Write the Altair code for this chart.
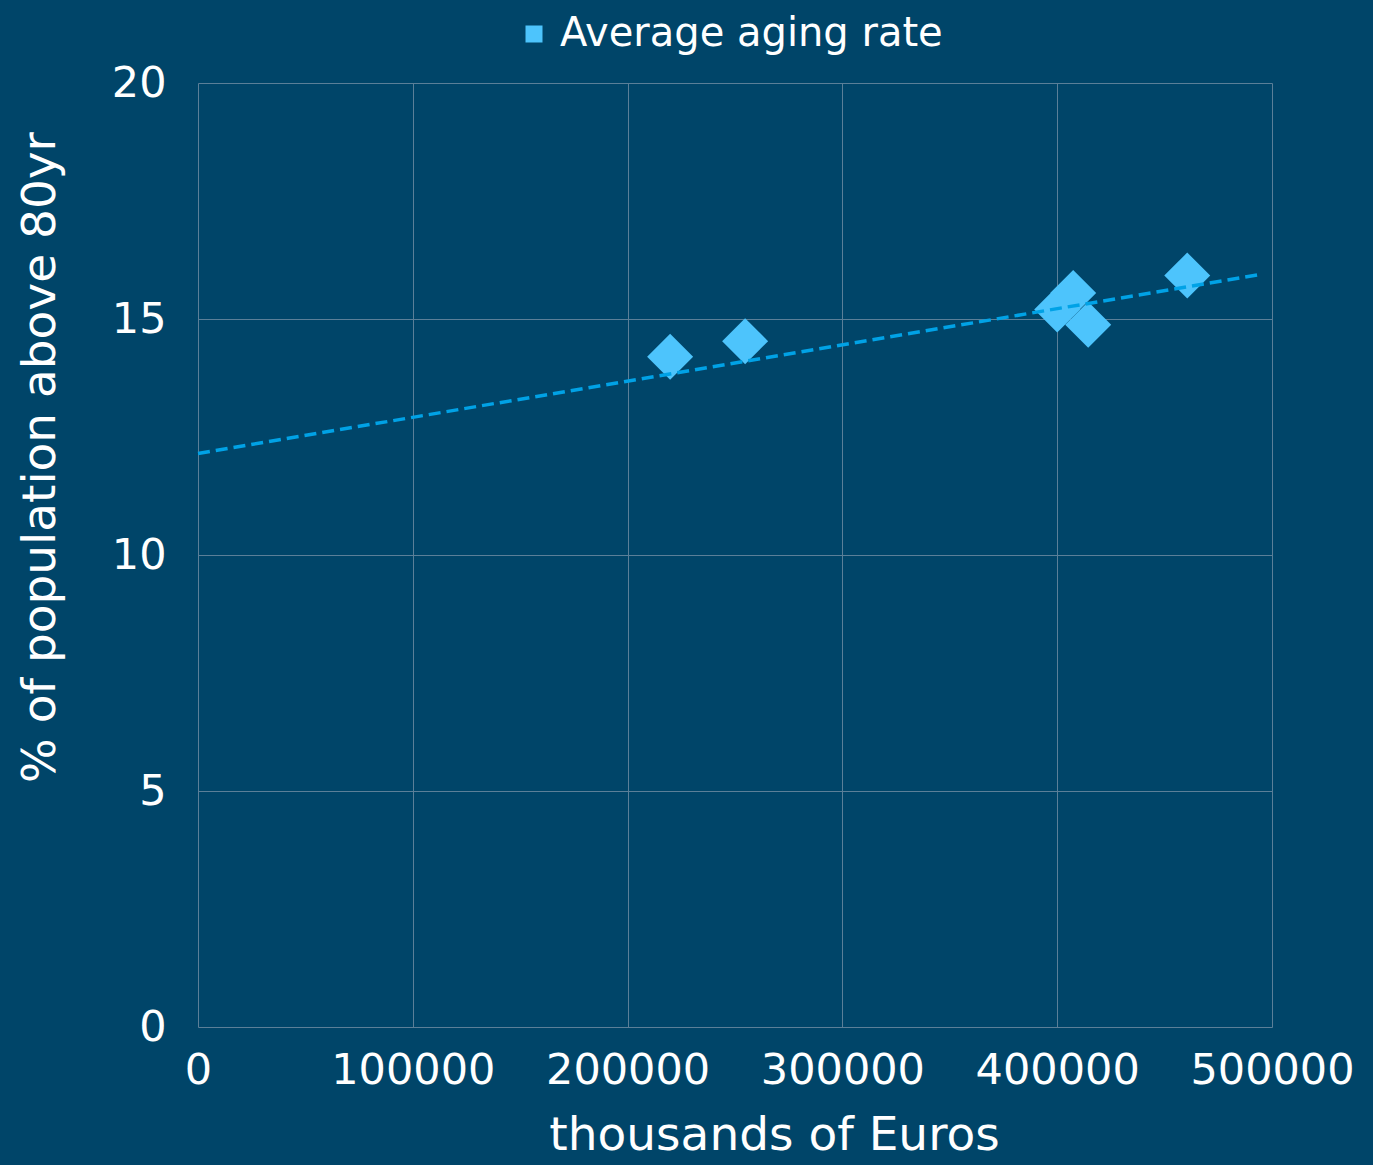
import altair as alt
import pandas as pd

# Regional GDP (thousands of euros) against share of population aged 80+
gdp = [219790, 254715, 400000, 407450, 414435, 460535]
share_80 = [14.20, 14.53, 15.20, 15.55, 14.88, 15.92]
series_name = "Average aging rate"

# Linear trend line end points
trend_x = [0, 495300]
trend_y = [12.15, 15.95]

x_ticks = [0, 100000, 200000, 300000, 400000, 500000]
y_ticks = [0, 5, 10, 15, 20]

BG = "#004569"
GRID = "#5b7f98"
POINT = "#4dc4fc"
TREND = "#00a2e6"
FONT = "DejaVu Sans"

points = pd.DataFrame({"gdp": gdp, "share": share_80, "series": [series_name] * len(gdp)})
trend = pd.DataFrame({"gdp": trend_x, "share": trend_y})

x_scale = alt.Scale(domain=[0, 500000], nice=False, zero=True)
y_scale = alt.Scale(domain=[0, 20], nice=False)

x_axis = alt.Axis(
    values=x_ticks, format="d", title="thousands of Euros",
    grid=True, gridColor=GRID, gridWidth=1, domain=False, ticks=False,
    labelFont=FONT, labelFontSize=43, labelColor="white", labelPadding=22,
    labelFlush=False, labelOverlap=False,
    titleFont=FONT, titleFontSize=47, titleFontWeight="normal", titleColor="white",
    titleX=576, titleY=122, titleAlign="center", titleBaseline="alphabetic",
)
y_axis = alt.Axis(
    values=y_ticks, title="% of population above 80yr",
    grid=True, gridColor=GRID, gridWidth=1, domain=False, ticks=False,
    labelFont=FONT, labelFontSize=43, labelColor="white", labelPadding=32,
    titleFont=FONT, titleFontSize=47, titleFontWeight="normal", titleColor="white",
    titleX=-134, titleY=374, titleAlign="center", titleAngle=270,
)

scatter = alt.Chart(points).mark_point(
    shape="diamond", filled=True, size=2116, opacity=1
).encode(
    x=alt.X("gdp:Q", scale=x_scale, axis=x_axis),
    y=alt.Y("share:Q", scale=y_scale, axis=y_axis),
    color=alt.Color(
        "series:N",
        scale=alt.Scale(domain=[series_name], range=[POINT]),
        legend=alt.Legend(
            title=None, orient="none", legendX=316, legendY=-69,
            symbolType="square", symbolSize=289, symbolStrokeWidth=0,
            symbolFillColor=POINT, labelFont=FONT, labelFontSize=40,
            labelColor="white", labelOffset=6, labelLimit=0, padding=0,
        ),
    ),
)

trend_line = alt.Chart(trend).mark_line(
    color=TREND, strokeWidth=3.5, strokeDash=[12, 6]
).encode(
    x=alt.X("gdp:Q", scale=x_scale),
    y=alt.Y("share:Q", scale=y_scale),
)

chart = alt.layer(scatter, trend_line).properties(
    width=1074, height=944,
    background=BG,
    autosize=alt.AutoSizeParams(type="none"),
    padding={"left": 198, "top": 83, "right": 101, "bottom": 138},
).configure_view(stroke=None)

chart.save("out.html", embed_options={"renderer": "svg", "actions": False})
